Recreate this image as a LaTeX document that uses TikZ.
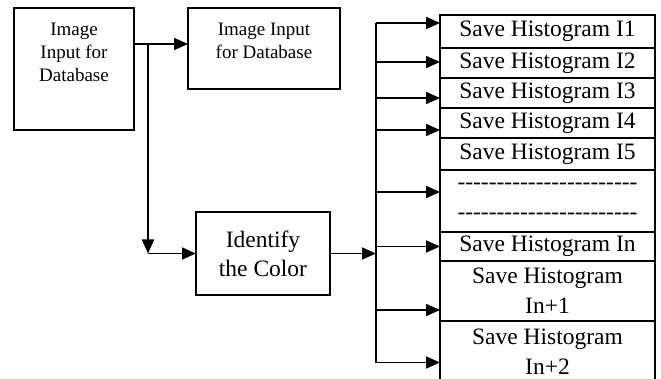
\documentclass[tikz,border=0pt]{standalone}
\usepackage{fontspec}
\setmainfont{Liberation Serif}
\usetikzlibrary{arrows.meta, positioning}

\newcommand{\hyrow}{\foreach \k in {1,...,23}{-\kern0pt}}

\begin{document}
\begin{tikzpicture}[x=1pt, y=-1pt,
              font=\fontsize{19}{23}\selectfont,
              box/.style={draw, rectangle, line width=1.6pt, outer sep=0pt, inner sep=0pt},
              lbl/.style={align=center, inner sep=0pt},
              hist/.style={box, align=center, minimum width=215pt, font=\fontsize{23.5}{30}\selectfont},
              arr/.style={-{Triangle[length=14pt, width=12pt]}, line width=1.7pt},
              bar/.style={line width=1.7pt}
            ]
              \useasboundingbox (0,0) rectangle (661,379);

              \node[box, minimum width=120pt, minimum height=122pt] (input) at (74,69) {};
              \node[lbl, below=15pt of input.north] (inputtxt) {Image\\Input for\\Database};
              \node[box, minimum width=152pt, minimum height=81pt] (dbinput) at (264,48.5) {};
              \node[lbl, below=15pt of dbinput.north] (dbinputtxt) {Image Input\\for Database};
              \node[box, align=center, minimum width=134pt, minimum height=83pt,
                    font=\fontsize{23.5}{29}\selectfont] (identify) at (263,253.5) {Identify\\the Color};

              \node[hist, minimum height=33pt] (r1) at (547.5,31.5) {Save Histogram I1};
              \node[hist, minimum height=30pt, below=0pt of r1] (r2) {Save Histogram I2};
              \node[hist, minimum height=30pt, below=0pt of r2] (r3) {Save Histogram I3};
              \node[hist, minimum height=30pt, below=0pt of r3] (r4) {Save Histogram I4};
              \node[hist, minimum height=32pt, below=0pt of r4] (r5) {Save Histogram I5};
              \node[hist, minimum height=62pt, below=0pt of r5] (rdots) {\hyrow\\\hyrow};
              \node[hist, minimum height=29pt, below=0pt of rdots] (rn) {Save Histogram In};
              \node[hist, minimum height=60pt, below=0pt of rn] (rn1) {Save Histogram\\In+1};
              \node[hist, minimum height=61pt, below=0pt of rn1] (rn2) {Save Histogram\\In+2};

              \coordinate (split) at (148,44);
              \coordinate (turn) at (split |- identify.west);
              \coordinate (bus) at (376,0);

              \draw[arr] ([yshift=25pt]input.east) -- ([yshift=25pt]input.east -| dbinput.west);
              \draw[arr] (split) -- (turn);
              \draw[arr] (turn) -- (identify.west);
              \draw[arr] (identify.east) -- (identify.east -| bus);
              \draw[bar] ([yshift=8.5pt]r1.west -| bus) -- ([yshift=-11pt]rn2.west -| bus);
              \foreach \r/\s in {r1/8.5, r2/1, r3/-5, r4/-7, rdots/9, rn/0, rn1/-19, rn2/-11}
                \draw[arr] ([yshift=\s pt]\r.west -| bus) -- ([yshift=\s pt]\r.west);
            \end{tikzpicture}
\end{document}
